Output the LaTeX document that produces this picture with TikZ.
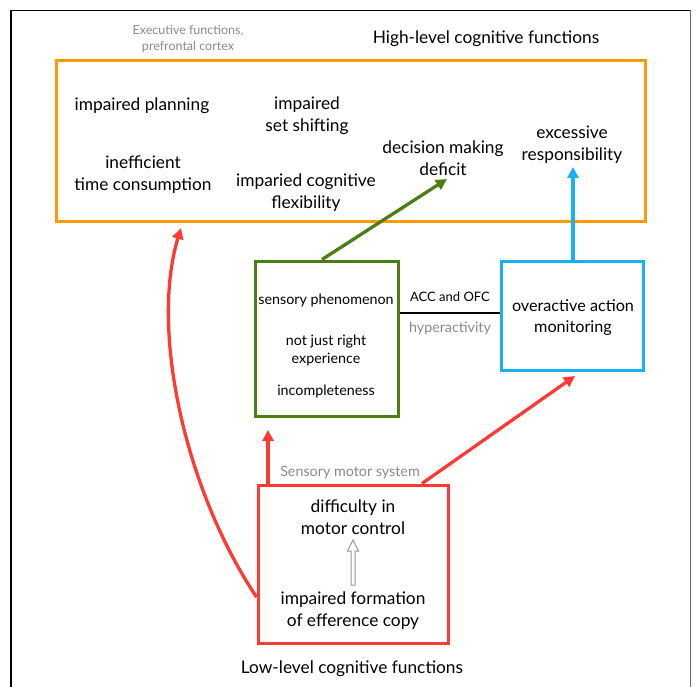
\documentclass[tikz,border=0pt]{standalone}
\usepackage{fontspec}
\setmainfont{Lato}
\usetikzlibrary{arrows.meta}
\definecolor{orng}{HTML}{FF9A00}
\definecolor{grn}{HTML}{4E7E12}
\definecolor{blu}{HTML}{19B0F5}
\definecolor{rd}{HTML}{FF3A33}
\definecolor{gtxt}{HTML}{8A8A8A}
\tikzset{
  box/.style={draw, line width=3pt, inner sep=0pt},
  txt/.style={align=center, font=\fontsize{17.3}{22}\selectfont, inner sep=0pt},
  stxt/.style={align=center, font=\fontsize{14.3}{18}\selectfont, inner sep=0pt},
  gray/.style={text=gtxt},
  arr/.style={line width=3.3pt, -{Triangle[length=11pt,width=11pt]}},
}
\begin{document}
\begin{tikzpicture}[x=1pt,y=-1pt]
\useasboundingbox (0,0) rectangle (696,687);
% frame
\draw[line width=1.2pt] (11,687) -- (11,10.5) -- (690.5,10.5);
\draw[line width=1.6pt, black!60] (690.5,10.5) -- (690.5,687);
% boxes
\node[box, draw=orng, minimum width=589pt, minimum height=161pt] (hi) at (350.5,141.5) {};
\node[box, draw=grn, minimum width=143pt, minimum height=155pt] (sens) at (326.5,338.5) {};
\node[box, draw=blu, minimum width=142pt, minimum height=109pt] (mon) at (572,315.5) {};
\node[box, draw=rd, minimum width=190pt, minimum height=158pt] (low) at (353,564) {};
% titles
\node[stxt, gray, font=\fontsize{12.5}{16}\selectfont] (exec) at (188,38.5) {Executive functions,\\prefrontal cortex};
\node[txt] (hlt) at (486,39) {High-level cognitive functions};
\node[txt] (llt) at (352,669) {Low-level cognitive functions};
% high-level contents
\node[txt] (plan) at (142,106) {impaired planning};
\node[txt] (shift) at (307,116) {impaired\\set shifting};
\node[txt] (time) at (143,175) {inefficient\\time consumption};
\node[txt] (flex) at (306,193) {imparied cognitive\\flexibility};
\node[txt] (dec) at (443,158) {decision making\\deficit};
\node[txt] (resp) at (572,145) {excessive\\responsibility};
% sensory box contents
\node[stxt] (sp) at (326,300.5) {sensory phenomenon};
\node[stxt] (njr) at (326,350.5) {not just right\\experience};
\node[stxt] (inc) at (326,391.5) {incompleteness};
% monitoring
\node[txt, font=\fontsize{16.2}{21}\selectfont] (oam) at (573,318) {overactive action\\monitoring};
% link labels
\node[stxt, font=\fontsize{13}{16}\selectfont] (acc) at (450,296.5) {ACC and OFC};
\node[stxt, gray] (hyp) at (450,328.5) {hyperactivity};
\node[stxt, gray] (sms) at (350,472.5) {Sensory motor system};
% low box contents
\node[txt] (dmc) at (353,517) {difficulty in\\motor control};
\node[txt] (ifec) at (353,611) {impaired formation\\of efference copy};
% coordinates
\coordinate (gtip) at (447,179);
\coordinate (btip) at (573,167);
\coordinate (rtip1) at (268,430);
\coordinate (rtip2) at (575,376);
\coordinate (rtip3) at (181,228);
% connectors
\draw[arr, draw=grn] (322,0 |- sens.north) -- (gtip);
\draw[arr, draw=blu] (573,0 |- mon.north) -- (btip);
\draw[line width=2.5pt] (sens.east |- 0,313) -- (mon.west |- 0,313);
\draw[arr, draw=rd] (268,0 |- low.north) -- (rtip1);
\draw[arr, draw=rd] (422,0 |- low.north) -- (rtip2);
\draw[arr, draw=rd] (low.west |- 0,597) .. controls (185,490) and (150,330) .. (rtip3);
% hollow arrow
\draw[gray!80, line width=1pt, fill=white] (351,585) -- (351,551) -- (347.5,551) -- (353,540) -- (358.5,551) -- (355,551) -- (355,585) -- cycle;
\end{tikzpicture}
\end{document}
